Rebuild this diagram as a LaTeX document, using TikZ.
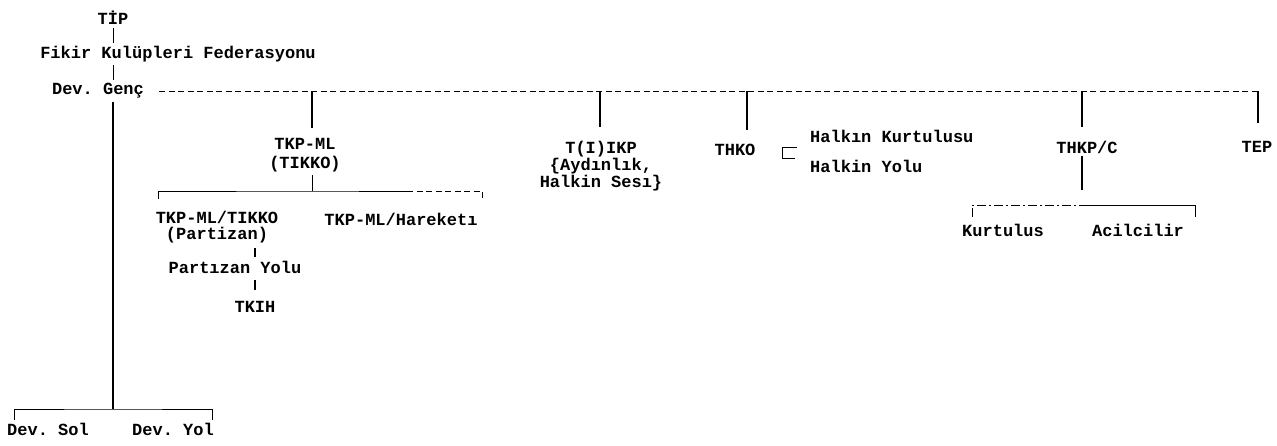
\documentclass[tikz,border=0pt]{standalone}
\usepackage{fontspec}
\setmonofont{Liberation Mono}
\usetikzlibrary{positioning, calc}
\tikzset{
    orgnode/.style={
        font=\ttfamily\bfseries\fontsize{17}{16}\selectfont, inner sep=3pt, align=center
    },
    link/.style={
        line width=1pt, black
    },
    droplink/.style={
        line width=2.2pt, black, shorten >=11pt
    },
    splitlink/.style={
        line width=1pt, black, dash pattern=on 6pt off 3.5pt
    }
}

\begin{document}
\begin{tikzpicture}[x=1pt, y=-1pt]
    \useasboundingbox (0,0) rectangle (1277,445);

    % --- ĐẦU: TİP -> Fikir Kulüpleri -> Dev. Genç ---
    \node[orgnode] (nTip) at (113,18) {TİP};
    \node[orgnode] (nFkf) at (178,54) {Fikir Kulüpleri Federasyonu};
    \node[orgnode] (nDevGenc) at (98,91) {Dev. Genç};
    \draw[link] (nTip.south) -- (nTip.south |- nFkf.north);
    \draw[link] (nTip |- nFkf.south) -- (nTip |- nDevGenc.north);

    % đường nét đứt và các điểm nhánh
    \coordinate (jTkp) at (312,91);
    \coordinate (jTiikp) at (600,91);
    \coordinate (jThko) at (747,91);
    \coordinate (jThkpc) at (1082,91);
    \coordinate (jTep) at (1258,91);
    \draw[splitlink, shorten <=12pt] (nDevGenc.east) -- (jTep);

    % --- NHÁNH DƯỚI: Dev. Sol / Dev. Yol ---
    \coordinate (devSplit) at (113,409);
    \draw[link, line width=1.3pt] (nTip |- nDevGenc.south) -- (devSplit);
    \node[orgnode] (nDevSol) at (48,429) {Dev. Sol};
    \node[orgnode] (nDevYol) at (173,429) {Dev. Yol};
    \draw[link] ([xshift=11pt]nDevSol.north west) |- (devSplit) -| ([xshift=-5pt]nDevYol.north east);

    % --- TKP-ML ---
    \node[orgnode] (nTkpMl) at (305,155) {TKP-ML\\[3pt](TIKKO)};
    \draw[droplink, shorten >=7pt] (jTkp) -- (jTkp |- nTkpMl.north);
    \coordinate (tkpSplit) at (312,191);
    \coordinate (tkpBreak) at (407,191);
    \draw[link] (nTkpMl.south -| jTkp) -- (tkpSplit);
    \node[orgnode] (nTkpP) at (217,227) {TKP-ML/TIKKO\\(Partizan)};
    \node[orgnode] (nTkpH) at (401,219) {TKP-ML/Hareketı};
    \draw[link] ([xshift=6pt, yshift=9pt]nTkpP.north west) |- (tkpSplit) -- (tkpBreak);
    \draw[splitlink] (tkpBreak) -| ([xshift=1.5pt, yshift=10pt]nTkpH.north east);

    \node[orgnode] (nPYolu) at (235,267) {Partızan Yolu};
    \node[orgnode] (nTkih) at (255,307) {TKIH};
    \draw[link, line width=1.8pt, shorten <=2pt, shorten >=1pt] (nTkpP.south -| nTkih) -- (nPYolu.north -| nTkih);
    \draw[link, line width=1.6pt, shorten <=4pt, shorten >=8pt] (nPYolu.south -| nTkih) -- (nTkih.north);

    % --- T(I)IKP ---
    \node[orgnode] (nTiikp) at (601,166) {T(I)IKP\\[1pt]\{Aydınlık,\\[1pt]Halkin Sesı\}};
    \draw[droplink] (jTiikp) -- (jTiikp |- nTiikp.north);

    % --- THKO ---
    \node[orgnode] (nThko) at (735,150) {THKO};
    \draw[droplink] (jThko) -- (jThko |- nThko.north);
    \coordinate (thkoBrk) at (782,147);
    \draw[link] ([xshift=15pt]thkoBrk) -- (thkoBrk) -- ++(0,11) -- ++(13,0);
    \node[orgnode, anchor=west] (nHKurt) at (807,136) {Halkın Kurtulusu};
    \node[orgnode, anchor=west] (nHYolu) at (807,166) {Halkin Yolu};

    % --- THKP/C ---
    \node[orgnode] (nThkpc) at (1087,147) {THKP/C};
    \draw[droplink] (jThkpc) -- (jThkpc |- nThkpc.north);
    \coordinate (thkpcEnd) at (1082,190);
    \draw[link, line width=1.6pt] (nThkpc.south -| jThkpc) -- (thkpcEnd);
    \node[orgnode] (nKurt) at (1003,230) {Kurtulus};
    \node[orgnode] (nAcil) at (1138,230) {Acilcilir};
    \coordinate (thkpcBreak) at (1080,205);
    \draw[splitlink, dash pattern=on 9pt off 3pt on 2pt off 3pt] ([xshift=13pt, yshift=4pt]nKurt.north west) |- (thkpcBreak);
    \draw[link] (thkpcBreak) -| ([xshift=8pt, yshift=4pt]nAcil.north east);

    % --- TEP ---
    \node[orgnode] (nTep) at (1257,147) {TEP};
    \draw[droplink, shorten >=15pt] (jTep) -- (jTep |- nTep.north);

\end{tikzpicture}
\end{document}
